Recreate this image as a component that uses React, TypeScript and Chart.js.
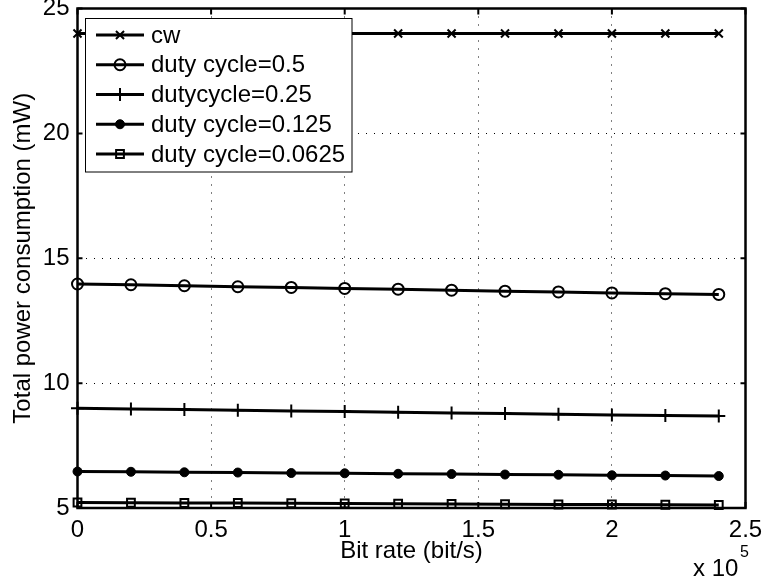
import React, { useEffect, useRef } from "react";
import { Chart, registerables } from "chart.js";
import { drawPoint } from "chart.js/helpers";

Chart.register(...registerables);

// Bit rate in units of 10^5 bit/s
const bitRates = [0, 0.2, 0.4, 0.6, 0.8, 1.0, 1.2, 1.4, 1.6, 1.8, 2.0, 2.2, 2.4];

const seriesNames = [
  "cw",
  "duty cycle=0.5",
  "dutycycle=0.25",
  "duty cycle=0.125",
  "duty cycle=0.0625",
];

const cwPower = [24, 24, 24, 24, 24, 24, 24, 24, 24, 24, 24, 24, 24];
const duty050Power = [13.97, 13.94, 13.9, 13.86, 13.83, 13.79, 13.76, 13.72, 13.68, 13.65, 13.61, 13.58, 13.55];
const duty025Power = [8.99, 8.96, 8.94, 8.91, 8.88, 8.86, 8.83, 8.8, 8.78, 8.75, 8.72, 8.7, 8.68];
const duty0125Power = [6.46, 6.45, 6.43, 6.42, 6.4, 6.39, 6.37, 6.36, 6.34, 6.33, 6.31, 6.3, 6.28];
const duty00625Power = [5.22, 5.21, 5.2, 5.2, 5.19, 5.18, 5.17, 5.16, 5.15, 5.14, 5.14, 5.13, 5.12];

const xTickValues = [0, 0.5, 1, 1.5, 2, 2.5];
const yTickValues = [5, 10, 15, 20, 25];

const FONT = "'Liberation Sans', Arial, Helvetica, sans-serif";

const markerStyles = [
  { pointStyle: "crossRot", radius: 5.7, bg: "#000", bw: 2 },
  { pointStyle: "circle", radius: 5.5, bg: "rgba(0,0,0,0)", bw: 2 },
  { pointStyle: "cross", radius: 6.5, bg: "#000", bw: 2 },
  { pointStyle: "circle", radius: 4.5, bg: "#000", bw: 1 },
  { pointStyle: "rect", radius: 5.5, bg: "rgba(0,0,0,0)", bw: 2 },
];

const framePlugin = {
  id: "frame",
  beforeDatasetsDraw(chart: any) {
    const { ctx, chartArea } = chart;
    const xs = chart.scales.x;
    const ys = chart.scales.y;
    ctx.save();
    ctx.strokeStyle = "#000";
    ctx.lineWidth = 2.5;
    ctx.strokeRect(chartArea.left, chartArea.top, chartArea.right - chartArea.left, chartArea.bottom - chartArea.top);
    ctx.lineWidth = 2;
    ctx.beginPath();
    xTickValues.forEach((v) => {
      const px = xs.getPixelForValue(v);
      ctx.moveTo(px, chartArea.bottom);
      ctx.lineTo(px, chartArea.bottom - 6);
      ctx.moveTo(px, chartArea.top);
      ctx.lineTo(px, chartArea.top + 6);
    });
    yTickValues.forEach((v) => {
      const py = ys.getPixelForValue(v);
      ctx.moveTo(chartArea.left, py);
      ctx.lineTo(chartArea.left + 5, py);
      ctx.moveTo(chartArea.right, py);
      ctx.lineTo(chartArea.right - 5, py);
    });
    ctx.stroke();
    ctx.restore();
  },
  afterDraw(chart: any) {
    const { ctx } = chart;
    ctx.save();
    // exponent label
    ctx.fillStyle = "#000";
    ctx.textBaseline = "alphabetic";
    ctx.textAlign = "left";
    ctx.font = `24px ${FONT}`;
    ctx.fillText("x 10", 693, 576);
    ctx.font = `16px ${FONT}`;
    ctx.fillText("5", 740, 557);

    // legend
    const bx = 85.5, by = 18.5, bw = 266.5, bh = 153.5;
    ctx.fillStyle = "#fff";
    ctx.fillRect(bx, by, bw, bh);
    ctx.strokeStyle = "#000";
    ctx.lineWidth = 1;
    ctx.strokeRect(bx, by, bw, bh);
    chart.data.datasets.forEach((ds: any, i: number) => {
      const y = 35 + i * 29.75;
      ctx.strokeStyle = "#000";
      ctx.lineWidth = 3;
      ctx.beginPath();
      ctx.moveTo(96, y);
      ctx.lineTo(144, y);
      ctx.stroke();
      const m = markerStyles[i];
      ctx.fillStyle = m.bg;
      ctx.strokeStyle = "#000";
      ctx.lineWidth = m.bw;
      drawPoint(ctx, { pointStyle: m.pointStyle, radius: m.radius, rotation: 0, borderWidth: m.bw }, 120, y);
      ctx.fillStyle = "#000";
      ctx.font = `24px ${FONT}`;
      ctx.textBaseline = "middle";
      ctx.textAlign = "left";
      ctx.fillText(ds.label, 151, y + 1);
    });
    ctx.restore();
  },
};

export default function App() {
  const canvasRef = useRef<HTMLCanvasElement | null>(null);

  useEffect(() => {
    if (!canvasRef.current) return;
    const allSeries = [cwPower, duty050Power, duty025Power, duty0125Power, duty00625Power];
    const datasets = allSeries.map((vals, i) => ({
      label: seriesNames[i],
      data: bitRates.map((x, j) => ({ x, y: vals[j] })),
      borderColor: "#000",
      backgroundColor: markerStyles[i].bg,
      borderWidth: 3,
      pointStyle: markerStyles[i].pointStyle,
      pointRadius: markerStyles[i].radius,
      pointBorderWidth: markerStyles[i].bw,
      pointBackgroundColor: markerStyles[i].bg,
      pointBorderColor: "#000",
      tension: 0,
      fill: false,
      clip: false,
    }));

    const chart = new Chart(canvasRef.current, {
      type: "line",
      data: { datasets },
      plugins: [framePlugin],
      options: {
        animation: false,
        responsive: true,
        maintainAspectRatio: false,
        devicePixelRatio: 1,
        events: [],
        layout: { padding: { top: 8, right: 20.5, left: 0, bottom: 0 } },
        plugins: {
          legend: { display: false },
          tooltip: { enabled: false },
        },
        scales: {
          x: {
            type: "linear",
            min: 0,
            max: 2.5,
            afterBuildTicks: (s: any) => {
              s.ticks = xTickValues.map((v) => ({ value: v }));
            },
            afterFit: (s: any) => {
              s.height = 76;
              s.paddingLeft = 0;
              s.paddingRight = 0;
            },
            ticks: {
              color: "#000",
              font: { family: FONT, size: 24 },
              padding: 8,
              maxRotation: 0,
              autoSkip: false,
              callback: (v: any) => String(v),
            },
            grid: { color: "#000", lineWidth: 1, drawTicks: false },
            border: { display: false, dash: [1, 7] },
            title: {
              display: true,
              text: "Bit rate (bit/s)",
              color: "#000",
              font: { family: FONT, size: 24 },
              padding: { top: 0, bottom: 18.6 },
            },
          },
          y: {
            type: "linear",
            min: 5,
            max: 25,
            afterBuildTicks: (s: any) => {
              s.ticks = yTickValues.map((v) => ({ value: v }));
            },
            afterFit: (s: any) => {
              s.width = 77.5;
              s.paddingTop = 0;
              s.paddingBottom = 0;
            },
            ticks: {
              color: "#000",
              font: { family: FONT, size: 24 },
              padding: 8,
              autoSkip: false,
              callback: (v: any) => String(v),
            },
            grid: { color: "#000", lineWidth: 1, drawTicks: false },
            border: { display: false, dash: [1, 7] },
            title: {
              display: true,
              text: "Total power consumption (mW)",
              color: "#000",
              font: { family: FONT, size: 24 },
              padding: { top: 8.6, bottom: 0 },
            },
          },
        },
      },
    });
    return () => chart.destroy();
  }, []);

  return (
    <div style={{ position: "fixed", left: 0, top: 0, width: 766, height: 584, background: "#fff" }}>
      <canvas ref={canvasRef} />
    </div>
  );
}
